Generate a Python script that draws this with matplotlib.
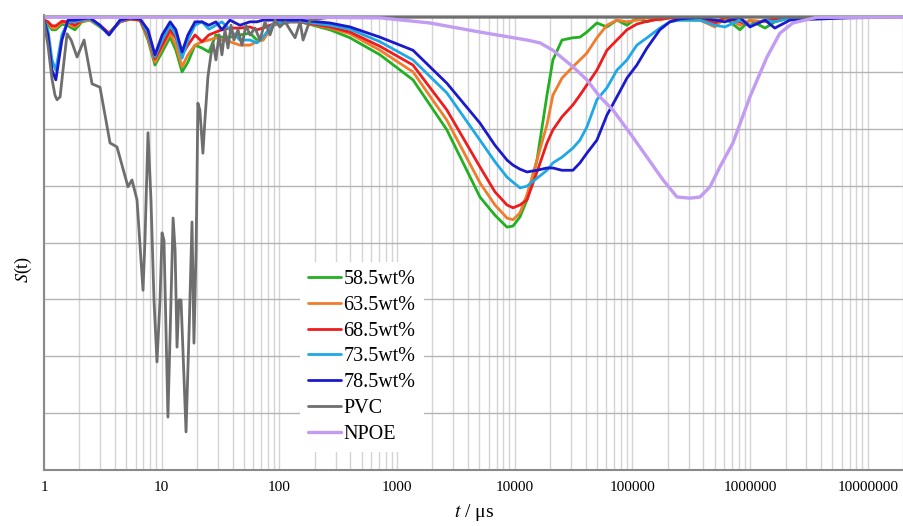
import matplotlib
matplotlib.use("Agg")
import matplotlib.pyplot as plt
import numpy as np
from matplotlib.ticker import FixedLocator, LogLocator, FuncFormatter, NullFormatter

plt.rcParams['font.family'] = ['Liberation Serif', 'DejaVu Serif']
plt.rcParams['mathtext.fontset'] = 'stix'

# shared time grid for the five compositions (us)
t_mix = [1.0, 1.08, 1.17, 1.26, 1.42, 1.60, 1.83, 2.10, 2.46, 2.99,
         3.57, 4.01, 4.42, 5.38, 6.54, 7.65, 8.77, 10.1, 11.8, 13.2,
         14.9, 16.7, 19.2, 22.0, 25.2, 28.9, 32.5, 38.0, 46.2, 56.2,
         64.5, 72.5, 88.3, 123, 150, 269, 398, 716, 1365, 2650,
         5060, 6790, 8590, 9670, 11070, 12700, 15450, 18780, 21100, 25200,
         31200, 35800, 41000, 49900, 60700, 73800, 89800, 109000, 133000, 171000,
         208000, 253000, 375000, 502000, 611000, 819000, 996000, 1.34e6, 1.62e6, 2.18e6,
         7.04e6, 2.03e7]

s_585 = [.991, .984, .974, .974, .984, .981, .974, .988, .991, .979,
         .968, .979, .988, .993, .991, .956, .912, .935, .961, .938,
         .900, .917, .947, .942, .935, .965, .961, .961, .965, .968,
         .956, .956, .982, .988, .988, .974, .960, .930, .886, .798,
         .680, .648, .627, .629, .645, .675, .745, .859, .921, .956,
         .960, .961, .970, .986, .979, .991, .982, .995, .988, .995,
         .996, .991, .991, .982, .995, .974, .991, .977, .988, .995,
         .996, .996]

s_635 = [.991, .988, .977, .977, .988, .984, .979, .989, .991, .981,
         .967, .979, .988, .993, .991, .960, .917, .942, .968, .947,
         .909, .930, .947, .953, .956, .960, .956, .953, .947, .947,
         .953, .956, .982, .988, .988, .977, .967, .938, .900, .815,
         .705, .666, .643, .640, .652, .684, .745, .807, .859, .889,
         .909, .921, .933, .960, .982, .991, .988, .991, .995, .991,
         .995, .993, .991, .979, .995, .982, .991, .988, .991, .995,
         .996, .996]

s_685 = [.991, .988, .981, .981, .989, .988, .982, .991, .993, .982,
         .968, .979, .988, .993, .991, .965, .923, .947, .974, .960,
         .930, .947, .965, .953, .965, .970, .974, .977, .977, .979,
         .974, .977, .984, .988, .988, .979, .970, .945, .912, .833,
         .733, .689, .666, .661, .666, .675, .724, .775, .798, .821,
         .842, .859, .877, .903, .938, .956, .974, .984, .989, .993,
         .995, .993, .995, .986, .996, .988, .982, .991, .993, .995,
         .996, .996]

s_735 = [.991, .974, .921, .903, .965, .988, .988, .991, .993, .981,
         .965, .979, .989, .995, .993, .968, .926, .956, .982, .965,
         .924, .956, .982, .988, .975, .982, .988, .974, .956, .956,
         .951, .961, .984, .989, .989, .982, .975, .953, .921, .863,
         .780, .742, .715, .706, .696, .699, .713, .727, .740, .750,
         .766, .780, .803, .851, .872, .903, .921, .947, .960, .977,
         .988, .991, .991, .982, .979, .991, .981, .991, .988, .995,
         .996, .996]

s_785 = [.991, .965, .903, .886, .956, .991, .991, .993, .995, .982,
         .965, .979, .991, .995, .993, .974, .930, .965, .988, .974,
         .935, .965, .988, .988, .982, .988, .974, .991, .982, .988,
         .988, .991, .991, .991, .991, .986, .979, .961, .938, .880,
         .810, .771, .745, .736, .729, .724, .727, .731, .731, .727,
         .727, .740, .757, .780, .824, .856, .889, .912, .942, .974,
         .988, .993, .996, .991, .988, .996, .979, .991, .977, .991,
         .995, .996]

t_pvc = [1.00, 1.08, 1.17, 1.24, 1.29, 1.37, 1.45, 1.57, 1.70, 1.91,
         2.19, 2.56, 2.99, 3.30, 3.64, 4.17, 4.60, 5.17, 5.59, 6.17,
         6.67, 6.94, 7.21, 7.65, 8.11, 8.60, 9.12, 9.68, 10.07, 10.46,
         10.88, 11.3, 12.0, 12.5, 13.0, 13.5, 14.0, 14.6, 15.5, 16.1,
         17.1, 18.1, 18.8, 19.6, 19.95, 20.3, 21.1, 22.4, 23.3, 24.7,
         26.2, 27.3, 28.9, 30.7, 32.5, 34.5, 36.6, 38.8, 41.1, 44.5,
         48.1, 52.0, 56.2, 62.1, 68.4, 75.5, 83.2, 91.8, 101, 112,
         123, 136, 150, 159, 182, 269, 2.03e7]
s_pvc = [.988, .947, .887, .859, .851, .856, .903, .967, .956, .926,
         .956, .879, .873, .824, .775, .768, .736, .698, .710, .675,
         .569, .516, .604, .793, .675, .499, .390, .499, .617, .604,
         .446, .293, .499, .643, .587, .416, .499, .499, .358, .267,
         .446, .636, .423, .587, .710, .845, .833, .757, .815, .891,
         .930, .951, .921, .965, .930, .974, .942, .982, .956, .974,
         .947, .982, .965, .977, .956, .988, .965, .991, .979, .988,
         .974, .960, .988, .956, .991, .996, .996]

t_npoe = [1, 150, 716, 1900, 5060, 12700, 16370, 21100, 31200, 41000,
          53000, 68300, 101000, 133000, 182000, 239000, 308000, 375000, 456000, 554000,
          714000, 996000, 1.39e6, 1.79e6, 2.31e6, 3.70e6, 2.03e7]
s_npoe = [.996, .996, .995, .986, .970, .956, .951, .938, .909, .886,
          .856, .833, .785, .750, .710, .680, .678, .680, .698, .733,
          .775, .856, .926, .968, .986, .996, .996]

labels = ['58.5wt%', '63.5wt%', '68.5wt%', '73.5wt%', '78.5wt%', 'PVC', 'NPOE']
colors = ['#22b022', '#f07c2c', '#ee1c1c', '#1ea8e6', '#1a1acc', '#6e6e6e', '#c29cf2']
decades = [1, 10, 100, 1000, 10000, 100000, 1000000, 10000000]

fig = plt.figure(figsize=(9.04, 5.26), dpi=100)
ax = fig.add_axes([44/904, 56/526, 860/904, 455/526])

line_kw = dict(solid_joinstyle='round', solid_capstyle='round')
for s, lab, c in zip([s_585, s_635, s_685, s_735, s_785], labels[:5], colors[:5]):
    ax.plot(t_mix, s, color=c, lw=2.0, label=lab, **line_kw)
ax.plot(t_pvc, s_pvc, color=colors[5], lw=2.0, label=labels[5], **line_kw)
ax.plot(t_npoe, s_npoe, color=colors[6], lw=2.4, label=labels[6], **line_kw)

ax.set_xscale('log')
ax.set_xlim(1, 2.03e7)
ax.set_ylim(0.2, 1.0)
ax.xaxis.set_major_locator(FixedLocator(decades))
ax.xaxis.set_minor_locator(LogLocator(base=10, subs=np.arange(2, 10), numticks=200))
ax.xaxis.set_minor_formatter(NullFormatter())
ax.xaxis.set_major_formatter(FuncFormatter(lambda v, p: '%d' % round(v)))
ax.set_yticks(np.arange(0.2, 1.01, 0.1))
ax.set_yticklabels([])
ax.tick_params(axis='both', which='both', length=0)
ax.tick_params(axis='x', labelsize=11, pad=8)

ax.grid(axis='x', which='both', color='#d4d4d4', lw=1.0)
ax.grid(axis='y', which='major', color='#b4b4b4', lw=1.0)
ax.set_axisbelow(True)

for side in ['left', 'bottom']:
    ax.spines[side].set_color('#8a8a8a')
    ax.spines[side].set_linewidth(1.5)
ax.spines['right'].set_visible(False)
ax.spines['top'].set_color('#a8a8a8')

fig.text(0.026, 0.487, '$S$(t)', rotation=90, ha='center', va='center', fontsize=13)
fig.text(474/904, 0.025, '$t$ / μs', ha='center', va='center', fontsize=14)

leg = ax.legend(loc='upper left', bbox_to_anchor=(0.298, 0.457), borderaxespad=0,
                fontsize=14.5, frameon=True, fancybox=False, edgecolor='none',
                facecolor='white', framealpha=1, handlelength=1.6, handletextpad=0.15,
                labelspacing=0.33, borderpad=0.4)

fig.savefig('out.png', dpi=100)
